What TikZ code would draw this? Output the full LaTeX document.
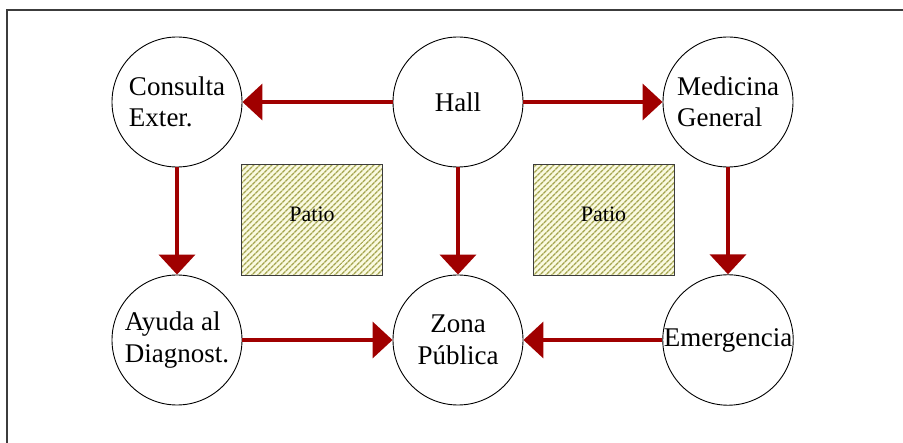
\documentclass[tikz,border=0pt]{standalone}
\usepackage{fontspec}
\setmainfont{Liberation Serif}
\usetikzlibrary{arrows.meta,patterns.meta}
\definecolor{arrred}{RGB}{160,0,0}
\definecolor{hatch}{RGB}{165,165,80}
\definecolor{hatchbg}{RGB}{250,250,225}
\definecolor{framegray}{RGB}{60,60,60}
\tikzset{
  room/.style={circle, draw=black, line width=0.9pt, minimum size=130pt, inner sep=0pt,
    font=\fontsize{27}{31.5}\selectfont},
  patiobox/.style={rectangle, draw=framegray, line width=1pt, minimum width=141pt, minimum height=111pt,
    inner sep=0pt, font=\fontsize{22}{26}\selectfont, text height=14pt, text depth=11pt,
    preaction={fill=hatchbg},
    pattern={Lines[angle=45,distance=4pt,line width=1.4pt]}, pattern color=hatch},
  flow/.style={draw=arrred, line width=4pt, -{Triangle[length=20pt,width=36pt]}, arrred}
}
\begin{document}
\begin{tikzpicture}[x=1pt,y=-1pt]
\useasboundingbox (0,0) rectangle (903,443);
\draw[framegray, line width=1.2pt] (7,443) -- (7,10) -- (903,10);
\node[patiobox] (p1) at (312,220.5) {Patio};
\node[patiobox] (p2) at (603.5,220.5) {Patio};
\node[room, align=left] (ce) at (177,102) {Consulta\\Exter.};
\node[room] (hall) at (458,102) {Hall};
\node[room, align=left] (mg) at (728,102) {Medicina\\General};
\node[room, align=left] (ad) at (177,340) {Ayuda al\\Diagnost.};
\node[room, align=center] (zp) at (458,340) {Zona\\Pública};
\node[room] (em) at (728,340) {Emergencia};
\draw[flow] (hall) -- (ce);
\draw[flow] (hall) -- (mg);
\draw[flow] (ce) -- (ad);
\draw[flow] (hall) -- (zp);
\draw[flow] (mg) -- (em);
\draw[flow] (ad) -- (zp);
\draw[flow] (em) -- (zp);
\end{tikzpicture}
\end{document}
